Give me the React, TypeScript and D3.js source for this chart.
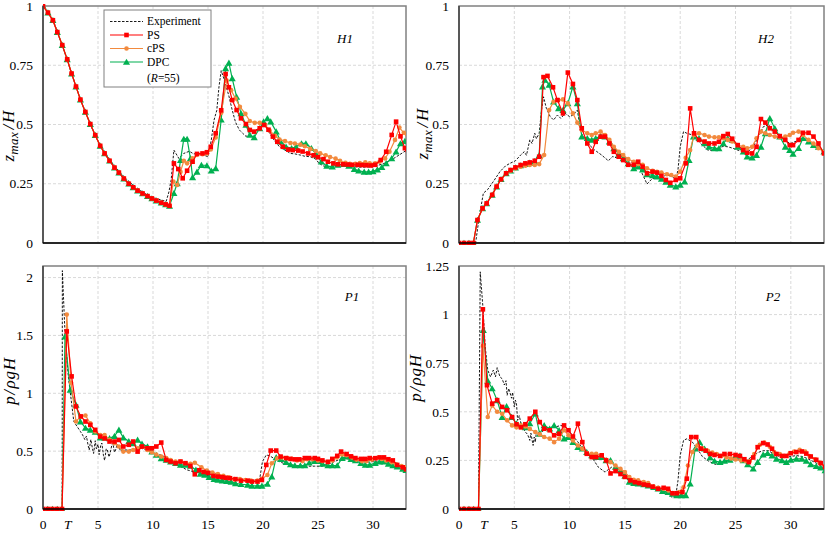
import * as d3 from 'd3';

type Pt = [number, number];

// ---- shared segments (all three simulations overlap here) ----
const h1Decay: Pt[] = [[0, 1], [0.45, 0.972], [0.9, 0.94], [1.3, 0.89], [1.75, 0.835], [2.2, 0.775], [2.6, 0.715], [3.0, 0.66], [3.4, 0.605], [3.85, 0.553], [4.3, 0.502], [4.75, 0.455], [5.2, 0.41], [5.6, 0.378], [6.05, 0.347], [6.5, 0.318], [6.9, 0.297], [7.35, 0.272], [7.8, 0.25], [8.2, 0.235], [8.6, 0.221], [9.05, 0.209], [9.5, 0.198], [9.9, 0.188], [10.3, 0.179], [10.75, 0.17], [11.15, 0.163], [11.5, 0.157]];
const h2Rise: Pt[] = [[0, 0], [0.45, 0], [0.9, 0], [1.3, 0], [1.67, 0.097], [2.13, 0.146], [2.5, 0.167], [3.0, 0.203], [3.4, 0.238], [3.8, 0.269], [4.26, 0.294]];
const p1Zero: Pt[] = [[0, 0], [0.43, 0], [0.86, 0], [1.3, 0], [1.73, 0]];
const p2Zero: Pt[] = [[0, 0], [0.45, 0], [0.9, 0], [1.32, 0], [1.76, 0]];

// ---- H1 ----
const h1Exp: Pt[] = [[0, 1], [0.5, 0.97], [1, 0.93], [1.5, 0.865], [2, 0.8], [2.5, 0.73], [3, 0.66], [3.5, 0.595], [4, 0.535], [4.5, 0.48], [5, 0.43], [5.5, 0.39], [6, 0.355], [6.5, 0.325], [7, 0.298], [7.5, 0.273], [8, 0.252], [8.5, 0.233], [9, 0.217], [9.5, 0.203], [10, 0.192], [10.5, 0.185], [11, 0.178], [11.2, 0.176], [11.45, 0.216], [11.65, 0.266], [11.9, 0.392], [12.35, 0.357], [12.8, 0.378], [13.3, 0.387], [13.7, 0.376], [14.2, 0.378], [14.6, 0.371], [15.0, 0.364], [15.3, 0.435], [15.55, 0.519], [15.8, 0.56], [16.0, 0.66], [16.2, 0.727], [16.4, 0.7], [16.7, 0.653], [16.9, 0.62], [17.2, 0.561], [17.5, 0.51], [17.85, 0.477], [18.15, 0.463], [18.45, 0.45], [18.8, 0.456], [19.2, 0.47], [19.7, 0.49], [20.0, 0.502], [20.3, 0.49], [20.6, 0.463], [21.1, 0.428], [21.5, 0.406], [22.0, 0.392], [22.5, 0.378], [22.9, 0.376], [23.4, 0.371], [23.8, 0.366], [24.3, 0.364], [24.8, 0.354], [25.1, 0.336], [25.5, 0.325], [25.9, 0.322], [27, 0.325], [28, 0.322], [29, 0.32], [30, 0.322], [31, 0.335], [32, 0.36], [33, 0.39]];
const h1PS: Pt[] = [...h1Decay, [11.9, 0.336], [12.3, 0.312], [12.7, 0.273], [13.1, 0.305], [13.6, 0.343], [14.0, 0.376], [14.5, 0.378], [14.9, 0.383], [15.25, 0.406], [15.7, 0.463], [16.2, 0.56], [16.6, 0.713], [16.9, 0.657], [17.2, 0.603], [17.6, 0.561], [18.0, 0.526], [18.45, 0.502], [18.8, 0.477], [19.2, 0.47], [19.7, 0.484], [20.1, 0.498], [20.5, 0.478], [20.9, 0.449], [21.3, 0.427], [21.8, 0.406], [22.3, 0.394], [22.7, 0.392], [23.2, 0.39], [23.6, 0.386], [24.1, 0.378], [24.6, 0.37], [25.0, 0.362], [25.5, 0.354], [25.9, 0.343], [26.4, 0.336], [26.8, 0.332], [27.3, 0.332], [27.7, 0.331], [28.1, 0.33], [28.6, 0.33], [29.0, 0.329], [29.4, 0.328], [29.8, 0.327], [30.2, 0.33], [30.7, 0.35], [31.2, 0.385], [31.7, 0.456], [32.1, 0.512], [32.5, 0.45], [32.9, 0.4], [33.3, 0.35]];
const h1cPS: Pt[] = [...h1Decay, [11.85, 0.259], [12.2, 0.245], [12.5, 0.3], [12.8, 0.347], [13.1, 0.336], [13.6, 0.357], [14.0, 0.372], [14.5, 0.375], [14.9, 0.378], [15.25, 0.395], [15.7, 0.445], [16.2, 0.55], [16.7, 0.685], [17.1, 0.645], [17.5, 0.61], [17.9, 0.575], [18.4, 0.545], [18.8, 0.515], [19.25, 0.507], [19.7, 0.507], [20.2, 0.498], [20.6, 0.475], [21.1, 0.452], [21.5, 0.437], [22.0, 0.43], [22.5, 0.422], [22.9, 0.42], [23.4, 0.415], [23.8, 0.408], [24.3, 0.397], [24.8, 0.388], [25.2, 0.378], [25.7, 0.37], [26.1, 0.363], [26.6, 0.356], [27.0, 0.347], [27.5, 0.338], [27.9, 0.334], [28.4, 0.334], [28.8, 0.337], [29.3, 0.34], [29.7, 0.336], [30.2, 0.336], [30.6, 0.343], [31.1, 0.357], [31.5, 0.385], [32.0, 0.435], [32.4, 0.487], [32.8, 0.465], [33.2, 0.44]];
const h1DPC: Pt[] = [...h1Decay, [11.9, 0.21], [12.2, 0.252], [12.5, 0.35], [12.8, 0.439], [13.1, 0.439], [13.4, 0.357], [13.6, 0.277], [14.0, 0.3], [14.4, 0.329], [14.9, 0.327], [15.3, 0.305], [15.7, 0.315], [16.2, 0.52], [16.6, 0.737], [16.9, 0.76], [17.2, 0.695], [17.6, 0.617], [18.0, 0.547], [18.45, 0.498], [18.8, 0.456], [19.2, 0.446], [19.7, 0.484], [20.05, 0.512], [20.4, 0.526], [20.7, 0.512], [21.2, 0.47], [21.6, 0.428], [22.1, 0.406], [22.6, 0.4], [23.0, 0.406], [23.5, 0.42], [23.9, 0.42], [24.4, 0.4], [24.9, 0.37], [25.3, 0.343], [25.8, 0.325], [26.3, 0.322], [26.8, 0.33], [27.4, 0.333], [27.8, 0.325], [28.3, 0.312], [28.7, 0.305], [29.2, 0.3], [29.6, 0.3], [30.0, 0.302], [30.4, 0.31], [30.8, 0.32], [31.2, 0.336], [31.7, 0.357], [32.1, 0.385], [32.5, 0.42], [32.9, 0.43], [33.3, 0.41]];

// ---- H2 ----
const h2Exp: Pt[] = [[0, 0], [1.5, 0], [1.8, 0.1], [2.2, 0.21], [2.6, 0.226], [3.1, 0.259], [3.7, 0.301], [4.2, 0.325], [4.6, 0.336], [5.1, 0.347], [5.57, 0.371], [5.9, 0.385], [6.1, 0.37], [6.4, 0.435], [6.6, 0.42], [6.85, 0.463], [7.0, 0.44], [7.25, 0.463], [7.46, 0.561], [7.64, 0.617], [7.9, 0.568], [8.25, 0.533], [8.55, 0.519], [8.9, 0.54], [9.2, 0.526], [9.6, 0.547], [10.0, 0.533], [10.3, 0.54], [10.7, 0.561], [11.0, 0.47], [11.35, 0.435], [11.8, 0.413], [12.27, 0.392], [12.9, 0.371], [13.5, 0.347], [13.9, 0.365], [14.4, 0.357], [14.7, 0.371], [15.3, 0.35], [15.9, 0.333], [16.3, 0.319], [17.0, 0.249], [17.5, 0.273], [17.9, 0.273], [18.4, 0.28], [18.8, 0.287], [19.3, 0.28], [19.6, 0.266], [19.8, 0.31], [20.0, 0.406], [20.3, 0.47], [20.6, 0.463], [21.1, 0.456], [21.55, 0.435], [22.0, 0.413], [22.5, 0.392], [23.0, 0.39], [23.4, 0.399], [23.9, 0.408], [24.3, 0.406], [24.8, 0.399], [25.2, 0.392], [25.7, 0.385], [26.1, 0.385], [26.5, 0.4], [27.0, 0.44], [27.5, 0.49], [28, 0.5], [28.5, 0.47], [29, 0.45], [29.5, 0.43], [30, 0.42], [30.5, 0.43], [31, 0.44], [31.5, 0.44], [32, 0.42], [32.5, 0.4], [33, 0.38], [33.3, 0.36]];
const h2PS: Pt[] = [...h2Rise, [4.66, 0.308], [5.1, 0.319], [5.57, 0.329], [6.0, 0.336], [6.4, 0.34], [6.85, 0.347], [7.25, 0.364], [7.64, 0.7], [8.0, 0.705], [8.5, 0.657], [8.9, 0.603], [9.4, 0.547], [9.84, 0.719], [10.3, 0.671], [10.7, 0.603], [11.1, 0.484], [11.6, 0.42], [12.0, 0.385], [12.36, 0.427], [12.8, 0.449], [13.2, 0.449], [13.6, 0.42], [14.0, 0.385], [14.45, 0.364], [14.85, 0.35], [15.3, 0.33], [15.8, 0.33], [16.2, 0.343], [16.6, 0.322], [17.0, 0.294], [17.5, 0.301], [17.9, 0.297], [18.3, 0.283], [18.7, 0.266], [19.1, 0.254], [19.6, 0.266], [20.0, 0.273], [20.5, 0.336], [20.9, 0.568], [21.25, 0.463], [21.7, 0.435], [22.2, 0.428], [22.6, 0.42], [23.1, 0.42], [23.5, 0.427], [23.9, 0.451], [24.3, 0.46], [24.7, 0.44], [25.2, 0.413], [25.7, 0.392], [26.05, 0.381], [26.5, 0.378], [26.9, 0.406], [27.3, 0.523], [27.7, 0.508], [28.1, 0.484], [28.55, 0.47], [29.0, 0.451], [29.5, 0.435], [29.9, 0.413], [30.2, 0.413], [30.7, 0.435], [31.1, 0.465], [31.6, 0.465], [32.05, 0.449], [32.5, 0.42], [33.0, 0.378], [33.3, 0.339]];
const h2cPS: Pt[] = [...h2Rise, [4.66, 0.305], [5.1, 0.315], [5.57, 0.322], [6.0, 0.326], [6.4, 0.329], [6.85, 0.329], [7.25, 0.333], [7.7, 0.371], [8.15, 0.561], [8.55, 0.596], [8.98, 0.603], [9.4, 0.606], [9.84, 0.589], [10.3, 0.547], [10.7, 0.508], [11.1, 0.477], [11.6, 0.463], [12.0, 0.456], [12.36, 0.463], [12.8, 0.47], [13.2, 0.456], [13.6, 0.435], [14.0, 0.406], [14.45, 0.385], [14.85, 0.371], [15.3, 0.354], [15.8, 0.343], [16.2, 0.333], [16.6, 0.33], [17.0, 0.315], [17.5, 0.305], [17.9, 0.3], [18.3, 0.297], [18.8, 0.29], [19.2, 0.287], [19.6, 0.28], [20.0, 0.301], [20.5, 0.36], [20.9, 0.392], [21.25, 0.456], [21.7, 0.463], [22.2, 0.456], [22.6, 0.449], [23.1, 0.446], [23.5, 0.446], [23.9, 0.442], [24.3, 0.435], [24.7, 0.428], [25.2, 0.413], [25.7, 0.406], [26.05, 0.4], [26.5, 0.406], [26.9, 0.442], [27.3, 0.47], [27.7, 0.463], [28.1, 0.456], [28.55, 0.449], [29.0, 0.446], [29.5, 0.449], [29.9, 0.456], [30.2, 0.465], [30.7, 0.47], [31.1, 0.456], [31.6, 0.435], [32.05, 0.42], [32.5, 0.4], [33.0, 0.385], [33.3, 0.371]];
const h2DPC: Pt[] = [...h2Rise, [4.66, 0.305], [5.1, 0.318], [5.57, 0.327], [6.0, 0.333], [6.4, 0.338], [6.85, 0.345], [7.25, 0.37], [7.55, 0.66], [7.77, 0.688], [8.15, 0.667], [8.55, 0.596], [9.0, 0.568], [9.4, 0.561], [9.84, 0.589], [10.3, 0.66], [10.7, 0.589], [11.1, 0.449], [11.6, 0.442], [12.0, 0.435], [12.36, 0.442], [12.8, 0.451], [13.2, 0.449], [13.6, 0.428], [14.0, 0.399], [14.45, 0.376], [14.85, 0.357], [15.3, 0.336], [15.8, 0.315], [16.2, 0.322], [16.6, 0.31], [17.0, 0.29], [17.5, 0.285], [17.9, 0.28], [18.3, 0.27], [18.7, 0.258], [19.1, 0.245], [19.6, 0.238], [20.0, 0.245], [20.4, 0.259], [20.8, 0.35], [21.2, 0.449], [21.7, 0.442], [22.2, 0.42], [22.6, 0.406], [23.1, 0.399], [23.5, 0.399], [23.9, 0.42], [24.3, 0.442], [24.7, 0.435], [25.2, 0.406], [25.7, 0.385], [26.05, 0.364], [26.5, 0.36], [26.9, 0.371], [27.3, 0.406], [27.7, 0.463], [28.1, 0.526], [28.55, 0.484], [29.0, 0.449], [29.5, 0.406], [29.9, 0.392], [30.2, 0.376], [30.7, 0.4], [31.1, 0.442], [31.6, 0.428], [32.05, 0.413], [32.5, 0.406], [33.0, 0.385], [33.3, 0.371]];

// ---- P1 ----
const p1Exp: Pt[] = [[0, 0], [1.74, 0], [1.76, 2.06], [2.0, 1.52], [2.3, 1.146], [2.6, 0.915], [2.8, 0.756], [3.1, 0.713], [3.4, 0.67], [3.6, 0.64], [3.8, 0.6], [3.95, 0.63], [4.1, 0.55], [4.2, 0.51], [4.35, 0.6], [4.5, 0.52], [4.6, 0.48], [4.75, 0.59], [4.85, 0.52], [5.0, 0.56], [5.1, 0.47], [5.25, 0.55], [5.35, 0.57], [5.5, 0.46], [5.6, 0.42], [5.75, 0.52], [5.85, 0.51], [6.0, 0.45], [6.1, 0.48], [6.25, 0.55], [6.35, 0.57], [6.5, 0.49], [6.6, 0.51], [6.75, 0.56], [6.9, 0.54], [7.05, 0.5], [7.2, 0.51], [7.7, 0.51], [8.3, 0.51], [8.9, 0.525], [9.5, 0.51], [10.1, 0.48], [10.7, 0.467], [11.3, 0.44], [11.9, 0.396], [12.5, 0.367], [13.1, 0.338], [13.7, 0.322], [14.3, 0.305], [15.0, 0.29], [15.55, 0.28], [16.3, 0.27], [17.1, 0.26], [17.8, 0.25], [18.6, 0.243], [19.5, 0.25], [19.7, 0.26], [19.95, 0.41], [20.3, 0.467], [20.6, 0.46], [21.0, 0.437], [21.6, 0.404], [22.3, 0.381], [22.9, 0.37], [23.5, 0.37], [24.1, 0.37], [24.7, 0.37], [25.4, 0.37], [26, 0.39], [26.5, 0.41], [27, 0.43], [27.5, 0.435], [28, 0.43], [28.5, 0.42], [29, 0.41], [29.5, 0.405], [30, 0.41], [30.5, 0.415], [31, 0.41], [31.5, 0.4], [32, 0.38], [32.5, 0.36], [33, 0.345], [33.4, 0.335]];
const p1PS: Pt[] = [...p1Zero, [2.16, 1.535], [2.6, 1.146], [3.0, 0.886], [3.44, 0.8], [3.86, 0.756], [4.3, 0.727], [4.75, 0.684], [5.2, 0.626], [5.6, 0.61], [6.05, 0.583], [6.5, 0.583], [6.9, 0.597], [7.3, 0.54], [7.8, 0.555], [8.2, 0.583], [8.6, 0.496], [9.0, 0.54], [9.5, 0.525], [9.9, 0.525], [10.3, 0.54], [10.75, 0.574], [11.2, 0.424], [11.6, 0.41], [12.05, 0.396], [12.5, 0.41], [12.95, 0.396], [13.4, 0.372], [13.8, 0.3], [14.2, 0.335], [14.6, 0.32], [15.0, 0.312], [15.5, 0.286], [15.9, 0.28], [16.3, 0.275], [16.6, 0.27], [17.0, 0.266], [17.5, 0.258], [18.0, 0.245], [18.6, 0.245], [19.0, 0.237], [19.5, 0.237], [19.9, 0.251], [20.3, 0.381], [20.7, 0.505], [21.2, 0.505], [21.6, 0.453], [22.1, 0.44], [22.5, 0.433], [22.9, 0.429], [23.3, 0.429], [23.8, 0.44], [24.2, 0.44], [24.7, 0.44], [25.0, 0.433], [25.4, 0.42], [25.9, 0.408], [26.3, 0.433], [26.75, 0.459], [27.1, 0.496], [27.6, 0.475], [28.0, 0.455], [28.4, 0.44], [28.9, 0.433], [29.3, 0.433], [29.7, 0.44], [30.2, 0.439], [30.6, 0.446], [31.0, 0.446], [31.4, 0.43], [31.8, 0.42], [32.2, 0.381], [32.7, 0.36], [33.0, 0.343]];
const p1cPS: Pt[] = [...p1Zero, [2.16, 1.68], [2.55, 1.09], [3.0, 0.756], [3.44, 0.8], [3.86, 0.808], [4.3, 0.74], [4.75, 0.67], [5.2, 0.64], [5.6, 0.64], [6.05, 0.597], [6.5, 0.568], [6.9, 0.54], [7.3, 0.496], [7.8, 0.496], [8.2, 0.51], [8.6, 0.525], [9.0, 0.54], [9.5, 0.51], [9.9, 0.49], [10.3, 0.47], [10.75, 0.453], [11.2, 0.44], [11.6, 0.424], [12.05, 0.41], [12.5, 0.41], [12.95, 0.396], [13.4, 0.39], [13.8, 0.4], [14.4, 0.361], [14.9, 0.332], [15.4, 0.315], [15.9, 0.303], [16.4, 0.286], [16.9, 0.275], [17.4, 0.258], [17.9, 0.258], [18.4, 0.251], [18.9, 0.245], [19.5, 0.245], [19.9, 0.26], [20.4, 0.294], [20.8, 0.395], [21.3, 0.439], [21.7, 0.446], [22.2, 0.44], [22.6, 0.433], [23.1, 0.42], [23.6, 0.414], [24.0, 0.43], [24.5, 0.43], [25.0, 0.42], [25.4, 0.414], [25.9, 0.405], [26.3, 0.42], [26.7, 0.446], [27.2, 0.472], [27.6, 0.465], [28.1, 0.446], [28.5, 0.427], [29.0, 0.414], [29.4, 0.414], [29.9, 0.427], [30.3, 0.44], [30.8, 0.433], [31.2, 0.42], [31.7, 0.405], [32.1, 0.387], [32.6, 0.372], [33.0, 0.36]];
const p1DPC: Pt[] = [...p1Zero, [2.0, 1.49], [2.47, 1.03], [3.0, 0.9], [3.4, 0.756], [3.86, 0.7], [4.3, 0.684], [4.75, 0.666], [5.2, 0.617], [5.6, 0.617], [6.05, 0.61], [6.5, 0.63], [6.9, 0.684], [7.3, 0.617], [7.8, 0.585], [8.2, 0.568], [8.6, 0.597], [9.0, 0.563], [9.5, 0.54], [9.9, 0.496], [10.3, 0.467], [10.75, 0.438], [11.2, 0.424], [11.6, 0.41], [12.05, 0.396], [12.5, 0.381], [12.95, 0.381], [13.4, 0.372], [13.9, 0.338], [14.3, 0.303], [14.7, 0.294], [15.1, 0.275], [15.55, 0.258], [15.9, 0.251], [16.3, 0.245], [16.7, 0.24], [17.1, 0.235], [17.5, 0.222], [18.0, 0.214], [18.6, 0.208], [19.0, 0.2], [19.5, 0.2], [19.9, 0.2], [20.4, 0.216], [20.8, 0.28], [21.2, 0.447], [21.6, 0.43], [22.1, 0.405], [22.5, 0.385], [22.9, 0.376], [23.4, 0.376], [23.8, 0.376], [24.2, 0.4], [24.7, 0.414], [25.0, 0.414], [25.4, 0.39], [25.9, 0.376], [26.3, 0.376], [26.75, 0.376], [27.2, 0.44], [27.6, 0.453], [28.0, 0.43], [28.4, 0.42], [28.9, 0.396], [29.3, 0.381], [29.7, 0.381], [30.2, 0.396], [30.6, 0.41], [31.0, 0.41], [31.4, 0.39], [31.8, 0.376], [32.2, 0.365], [32.7, 0.347], [33.0, 0.335]];

// ---- P2 ----
const p2Exp: Pt[] = [[0, 0], [1.76, 0], [1.92, 1.22], [2.16, 1.04], [2.37, 0.834], [2.6, 0.714], [2.85, 0.68], [3.1, 0.714], [3.3, 0.68], [3.45, 0.727], [3.7, 0.68], [3.9, 0.67], [4.1, 0.638], [4.25, 0.66], [4.35, 0.585], [4.5, 0.62], [4.6, 0.6], [4.75, 0.57], [4.85, 0.6], [5.0, 0.525], [5.1, 0.56], [5.2, 0.54], [5.3, 0.456], [5.45, 0.48], [5.6, 0.44], [5.85, 0.412], [6.0, 0.396], [6.2, 0.384], [6.4, 0.353], [6.5, 0.39], [6.7, 0.327], [6.8, 0.37], [6.9, 0.344], [7.0, 0.4], [7.3, 0.39], [7.9, 0.413], [8.6, 0.42], [9.2, 0.43], [9.7, 0.42], [10.1, 0.39], [10.75, 0.345], [11.4, 0.293], [12.0, 0.267], [12.6, 0.215], [13.2, 0.19], [13.8, 0.215], [14.25, 0.2], [14.7, 0.18], [15.3, 0.165], [15.6, 0.15], [16.5, 0.13], [17.4, 0.113], [18.3, 0.095], [18.95, 0.075], [19.3, 0.058], [19.6, 0.07], [19.8, 0.147], [20.0, 0.276], [20.3, 0.353], [20.6, 0.361], [21.1, 0.344], [21.55, 0.31], [22.0, 0.27], [22.6, 0.245], [23.2, 0.229], [23.8, 0.236], [24.4, 0.25], [25.0, 0.253], [25.5, 0.253], [26, 0.25], [26.5, 0.27], [27, 0.29], [27.5, 0.3], [28, 0.3], [28.5, 0.28], [29, 0.27], [29.5, 0.265], [30, 0.27], [30.5, 0.275], [31, 0.27], [31.5, 0.26], [32, 0.245], [32.5, 0.23], [33, 0.21], [33.4, 0.195]];
const p2PS: Pt[] = [...p2Zero, [2.16, 1.027], [2.53, 0.637], [3.0, 0.542], [3.45, 0.56], [3.9, 0.525], [4.35, 0.508], [4.8, 0.473], [5.2, 0.436], [5.6, 0.42], [6.0, 0.436], [6.4, 0.465], [6.9, 0.5], [7.3, 0.447], [7.7, 0.413], [8.2, 0.405], [8.6, 0.379], [9.05, 0.387], [9.5, 0.43], [9.9, 0.405], [10.3, 0.373], [10.75, 0.439], [11.15, 0.344], [11.55, 0.284], [12.0, 0.267], [12.4, 0.267], [12.9, 0.276], [13.3, 0.25], [13.7, 0.183], [14.15, 0.195], [14.6, 0.18], [15.0, 0.165], [15.5, 0.147], [15.9, 0.138], [16.3, 0.133], [16.7, 0.126], [17.1, 0.122], [17.5, 0.115], [18.0, 0.104], [18.5, 0.109], [18.9, 0.104], [19.3, 0.081], [19.7, 0.081], [20.2, 0.087], [20.6, 0.156], [21.0, 0.37], [21.45, 0.37], [21.85, 0.31], [22.3, 0.3], [22.7, 0.283], [23.1, 0.278], [23.6, 0.273], [24.0, 0.283], [24.5, 0.283], [25.0, 0.278], [25.4, 0.273], [25.8, 0.256], [26.2, 0.241], [26.6, 0.265], [27.0, 0.318], [27.5, 0.339], [27.9, 0.332], [28.3, 0.31], [28.7, 0.283], [29.2, 0.273], [29.6, 0.273], [30.0, 0.287], [30.5, 0.293], [31.0, 0.296], [31.4, 0.285], [31.8, 0.27], [32.3, 0.253], [32.7, 0.236], [33.1, 0.216], [33.4, 0.195]];
const p2cPS: Pt[] = [...p2Zero, [2.16, 0.84], [2.6, 0.473], [3.0, 0.533], [3.45, 0.5], [3.9, 0.49], [4.35, 0.456], [4.8, 0.43], [5.2, 0.42], [5.6, 0.43], [6.0, 0.425], [6.4, 0.412], [6.9, 0.396], [7.3, 0.384], [7.7, 0.37], [8.2, 0.362], [8.6, 0.344], [9.05, 0.362], [9.5, 0.405], [9.9, 0.379], [10.3, 0.353], [10.75, 0.327], [11.15, 0.31], [11.55, 0.288], [12.0, 0.284], [12.4, 0.284], [12.9, 0.276], [13.3, 0.253], [13.7, 0.241], [14.15, 0.224], [14.6, 0.207], [15.0, 0.19], [15.4, 0.164], [15.8, 0.15], [16.2, 0.147], [16.7, 0.138], [17.1, 0.133], [17.6, 0.115], [18.0, 0.109], [18.5, 0.104], [18.95, 0.095], [19.4, 0.081], [19.9, 0.087], [20.3, 0.112], [20.7, 0.224], [21.1, 0.293], [21.55, 0.327], [22.0, 0.312], [22.5, 0.3], [22.9, 0.29], [23.3, 0.283], [23.7, 0.273], [24.2, 0.265], [24.6, 0.26], [25.0, 0.255], [25.5, 0.25], [25.9, 0.247], [26.3, 0.247], [26.7, 0.283], [27.2, 0.33], [27.6, 0.342], [28.1, 0.32], [28.5, 0.293], [29.0, 0.283], [29.4, 0.273], [29.9, 0.287], [30.3, 0.296], [30.8, 0.304], [31.3, 0.296], [31.7, 0.273], [32.2, 0.256], [32.6, 0.239], [33.1, 0.222], [33.4, 0.205]];
const p2DPC: Pt[] = [...p2Zero, [2.2, 0.92], [2.6, 0.66], [3.0, 0.62], [3.45, 0.559], [3.9, 0.473], [4.3, 0.528], [4.75, 0.473], [5.2, 0.44], [5.6, 0.43], [6.0, 0.42], [6.4, 0.44], [6.9, 0.49], [7.3, 0.387], [7.7, 0.43], [8.2, 0.413], [8.6, 0.43], [9.05, 0.405], [9.5, 0.362], [9.9, 0.37], [10.3, 0.344], [10.75, 0.318], [11.15, 0.31], [11.55, 0.293], [12.0, 0.276], [12.4, 0.267], [12.9, 0.267], [13.3, 0.25], [13.7, 0.25], [14.15, 0.216], [14.6, 0.199], [15.0, 0.17], [15.4, 0.14], [15.8, 0.133], [16.2, 0.13], [16.7, 0.126], [17.1, 0.12], [17.6, 0.112], [18.0, 0.105], [18.4, 0.092], [18.9, 0.087], [19.3, 0.078], [19.7, 0.07], [20.1, 0.07], [20.5, 0.07], [20.9, 0.13], [21.35, 0.31], [21.75, 0.344], [22.2, 0.31], [22.7, 0.265], [23.1, 0.247], [23.6, 0.241], [24.0, 0.247], [24.5, 0.253], [24.95, 0.265], [25.4, 0.273], [25.7, 0.25], [26.1, 0.23], [26.6, 0.207], [27.0, 0.241], [27.5, 0.28], [27.9, 0.287], [28.3, 0.275], [28.7, 0.258], [29.2, 0.25], [29.6, 0.241], [30.0, 0.253], [30.5, 0.258], [31.0, 0.258], [31.4, 0.247], [31.8, 0.23], [32.3, 0.22], [32.7, 0.213], [33.1, 0.199], [33.4, 0.19]];

// ---- axes ----
const xTicks = [0, 5, 10, 15, 20, 25, 30];
const tMark = 2.25;
const yTicksH = [0, 0.25, 0.5, 0.75, 1];
const yTicksP1 = [0, 0.5, 1, 1.5, 2];
const yTicksP2 = [0, 0.25, 0.5, 0.75, 1, 1.25];

const RED = '#ff0000';
const ORANGE = '#f28a3e';
const GREEN = '#00b050';
const FONT = '"Liberation Serif", "Times New Roman", serif';

const tri = d3.symbol().type(d3.symbolTriangle).size(22)() as string;

interface PanelProps {
  id: string;
  xr: [number, number];
  yr: [number, number];
  yMax: number;
  yTicks: number[];
  exp: Pt[];
  ps: Pt[];
  cps: Pt[];
  dpc: Pt[];
  label: string;
  labelX: number;
  labelY: number;
  showX: boolean;
  title: 'z' | 'p';
  titleX: number;
  titleY: number;
}

function YTitle({ kind, x, y }: { kind: 'z' | 'p'; x: number; y: number }) {
  return (
    <text transform={`translate(${x},${y}) rotate(-90)`} textAnchor="middle" fontFamily={FONT}
      fontStyle="italic" fontSize={17} fill="#000">
      {kind === 'z' ? (
        <>
          <tspan>z</tspan>
          <tspan fontSize={13} dy={4} letterSpacing={0.5}>max</tspan>
          <tspan dy={-4} dx={2}>/</tspan>
          <tspan dx={2}>H</tspan>
        </>
      ) : (
        <>
          <tspan>p</tspan>
          <tspan dx={1.5}>/</tspan>
          <tspan dx={1.5} letterSpacing={0.8}>ρgH</tspan>
        </>
      )}
    </text>
  );
}

function Panel(p: PanelProps) {
  const x = d3.scaleLinear().domain([0, 33]).range(p.xr);
  const y = d3.scaleLinear().domain([0, p.yMax]).range(p.yr);
  const line = d3.line<Pt>().x(d => x(d[0])).y(d => y(d[1]));
  const [x0, x1] = p.xr;
  const [yb, yt] = p.yr;

  return (
    <g>
      <defs>
        <clipPath id={`clip-${p.id}`}>
          <rect x={x0} y={yt - 2} width={x1 - x0} height={yb - yt + 4} />
        </clipPath>
      </defs>
      {/* grid */}
      {xTicks.filter(t => t > 0).map(t => (
        <line key={`gx${t}`} x1={x(t)} x2={x(t)} y1={yt} y2={yb} stroke="#d9d9d9" strokeWidth={1} strokeDasharray="3,2" />
      ))}
      {p.yTicks.filter(t => t > 0 && t < p.yMax).map(t => (
        <line key={`gy${t}`} x1={x0} x2={x1} y1={y(t)} y2={y(t)} stroke="#d9d9d9" strokeWidth={1} strokeDasharray="3,2" />
      ))}
      <rect x={x0} y={yt} width={x1 - x0} height={yb - yt} fill="none" stroke="#808080" strokeWidth={1.5} />

      <g clipPath={`url(#clip-${p.id})`}>
        <path d={line(p.exp) ?? ''} fill="none" stroke="#000" strokeWidth={0.9} strokeDasharray="2.5,1.5" />
        <path d={line(p.dpc) ?? ''} fill="none" stroke={GREEN} strokeWidth={1.2} />
        {p.dpc.map((d, i) => (
          <path key={`g${i}`} d={tri} transform={`translate(${x(d[0])},${y(d[1]) + 0.8})`} fill={GREEN} />
        ))}
        <path d={line(p.cps) ?? ''} fill="none" stroke={ORANGE} strokeWidth={1.2} />
        {p.cps.map((d, i) => (
          <circle key={`o${i}`} cx={x(d[0])} cy={y(d[1])} r={2.3} fill={ORANGE} />
        ))}
        <path d={line(p.ps) ?? ''} fill="none" stroke={RED} strokeWidth={1.2} />
        {p.ps.map((d, i) => (
          <rect key={`r${i}`} x={x(d[0]) - 2.3} y={y(d[1]) - 2.3} width={4.6} height={4.6} fill={RED} />
        ))}
      </g>

      {/* axis lines */}
      <line x1={x0} x2={x0} y1={yt} y2={yb} stroke="#404040" strokeWidth={1.5} />
      <line x1={x0} x2={x1} y1={yb} y2={yb} stroke="#000" strokeWidth={1.3} />

      {p.yTicks.map(t => (
        <text key={`ty${t}`} x={x0 - 10} y={y(t)} dy="0.35em" textAnchor="end" fontFamily={FONT} fontSize={13.5} fill="#000">
          {String(t)}
        </text>
      ))}
      {p.showX && xTicks.map(t => (
        <text key={`tx${t}`} x={x(t)} y={529} textAnchor="middle" fontFamily={FONT} fontSize={13.5} fill="#000">
          {String(t)}
        </text>
      ))}
      {p.showX && (
        <text x={x(tMark)} y={529} textAnchor="middle" fontFamily={FONT} fontSize={13.5} fontStyle="italic" fill="#000">T</text>
      )}

      <text x={p.labelX} y={p.labelY} textAnchor="middle" fontFamily={FONT} fontSize={13} fontStyle="italic" fill="#000">
        {p.label}
      </text>
      <YTitle kind={p.title} x={p.titleX} y={p.titleY} />
    </g>
  );
}

function Legend() {
  const lx0 = 110;
  const lx1 = 143;
  const mx = (lx0 + lx1) / 2;
  const rows = [25, 38.5, 52, 65.5];
  const fs = 11.5;
  return (
    <g fontFamily={FONT} fontSize={fs} fill="#000">
      <rect x={104} y={10} width={107} height={77} fill="#fff" stroke="#808080" strokeWidth={1} />
      <line x1={lx0} x2={lx1} y1={rows[0] - 3.5} y2={rows[0] - 3.5} stroke="#000" strokeWidth={0.9} strokeDasharray="2.5,1.5" />
      <text x={147} y={rows[0]}>Experiment</text>
      <line x1={lx0} x2={lx1} y1={rows[1] - 3.5} y2={rows[1] - 3.5} stroke={RED} strokeWidth={1.2} />
      <rect x={mx - 2.3} y={rows[1] - 5.8} width={4.6} height={4.6} fill={RED} />
      <text x={147} y={rows[1]}>PS</text>
      <line x1={lx0} x2={lx1} y1={rows[2] - 3.5} y2={rows[2] - 3.5} stroke={ORANGE} strokeWidth={1.2} />
      <circle cx={mx} cy={rows[2] - 3.5} r={2.3} fill={ORANGE} />
      <text x={147} y={rows[2]}>cPS</text>
      <line x1={lx0} x2={lx1} y1={rows[3] - 3.5} y2={rows[3] - 3.5} stroke={GREEN} strokeWidth={1.2} />
      <path d={tri} transform={`translate(${mx},${rows[3] - 2.7})`} fill={GREEN} />
      <text x={147} y={rows[3]}>DPC</text>
      <text x={147} y={82}>(<tspan fontStyle="italic">R</tspan>=55)</text>
    </g>
  );
}

export default function App() {
  const L: [number, number] = [43, 406];
  const R: [number, number] = [459, 824];
  const TOP: [number, number] = [243, 6];
  const BOT: [number, number] = [509, 266];
  return (
    <svg width={830} height={534} style={{ position: 'absolute', left: 0, top: 0, background: '#fff' }}>
      <rect width={830} height={534} fill="#fff" />
      <Panel id="h1" xr={L} yr={TOP} yMax={1} yTicks={yTicksH} exp={h1Exp} ps={h1PS} cps={h1cPS} dpc={h1DPC}
        label="H1" labelX={345} labelY={43} showX={false} title="z" titleX={14} titleY={136} />
      <Panel id="h2" xr={R} yr={TOP} yMax={1} yTicks={yTicksH} exp={h2Exp} ps={h2PS} cps={h2cPS} dpc={h2DPC}
        label="H2" labelX={766} labelY={43} showX={false} title="z" titleX={428} titleY={134} />
      <Panel id="p1" xr={L} yr={BOT} yMax={2.1} yTicks={yTicksP1} exp={p1Exp} ps={p1PS} cps={p1cPS} dpc={p1DPC}
        label="P1" labelX={352} labelY={301} showX={true} title="p" titleX={15} titleY={381} />
      <Panel id="p2" xr={R} yr={BOT} yMax={1.25} yTicks={yTicksP2} exp={p2Exp} ps={p2PS} cps={p2cPS} dpc={p2DPC}
        label="P2" labelX={773} labelY={301} showX={true} title="p" titleX={421} titleY={378} />
      <Legend />
    </svg>
  );
}
